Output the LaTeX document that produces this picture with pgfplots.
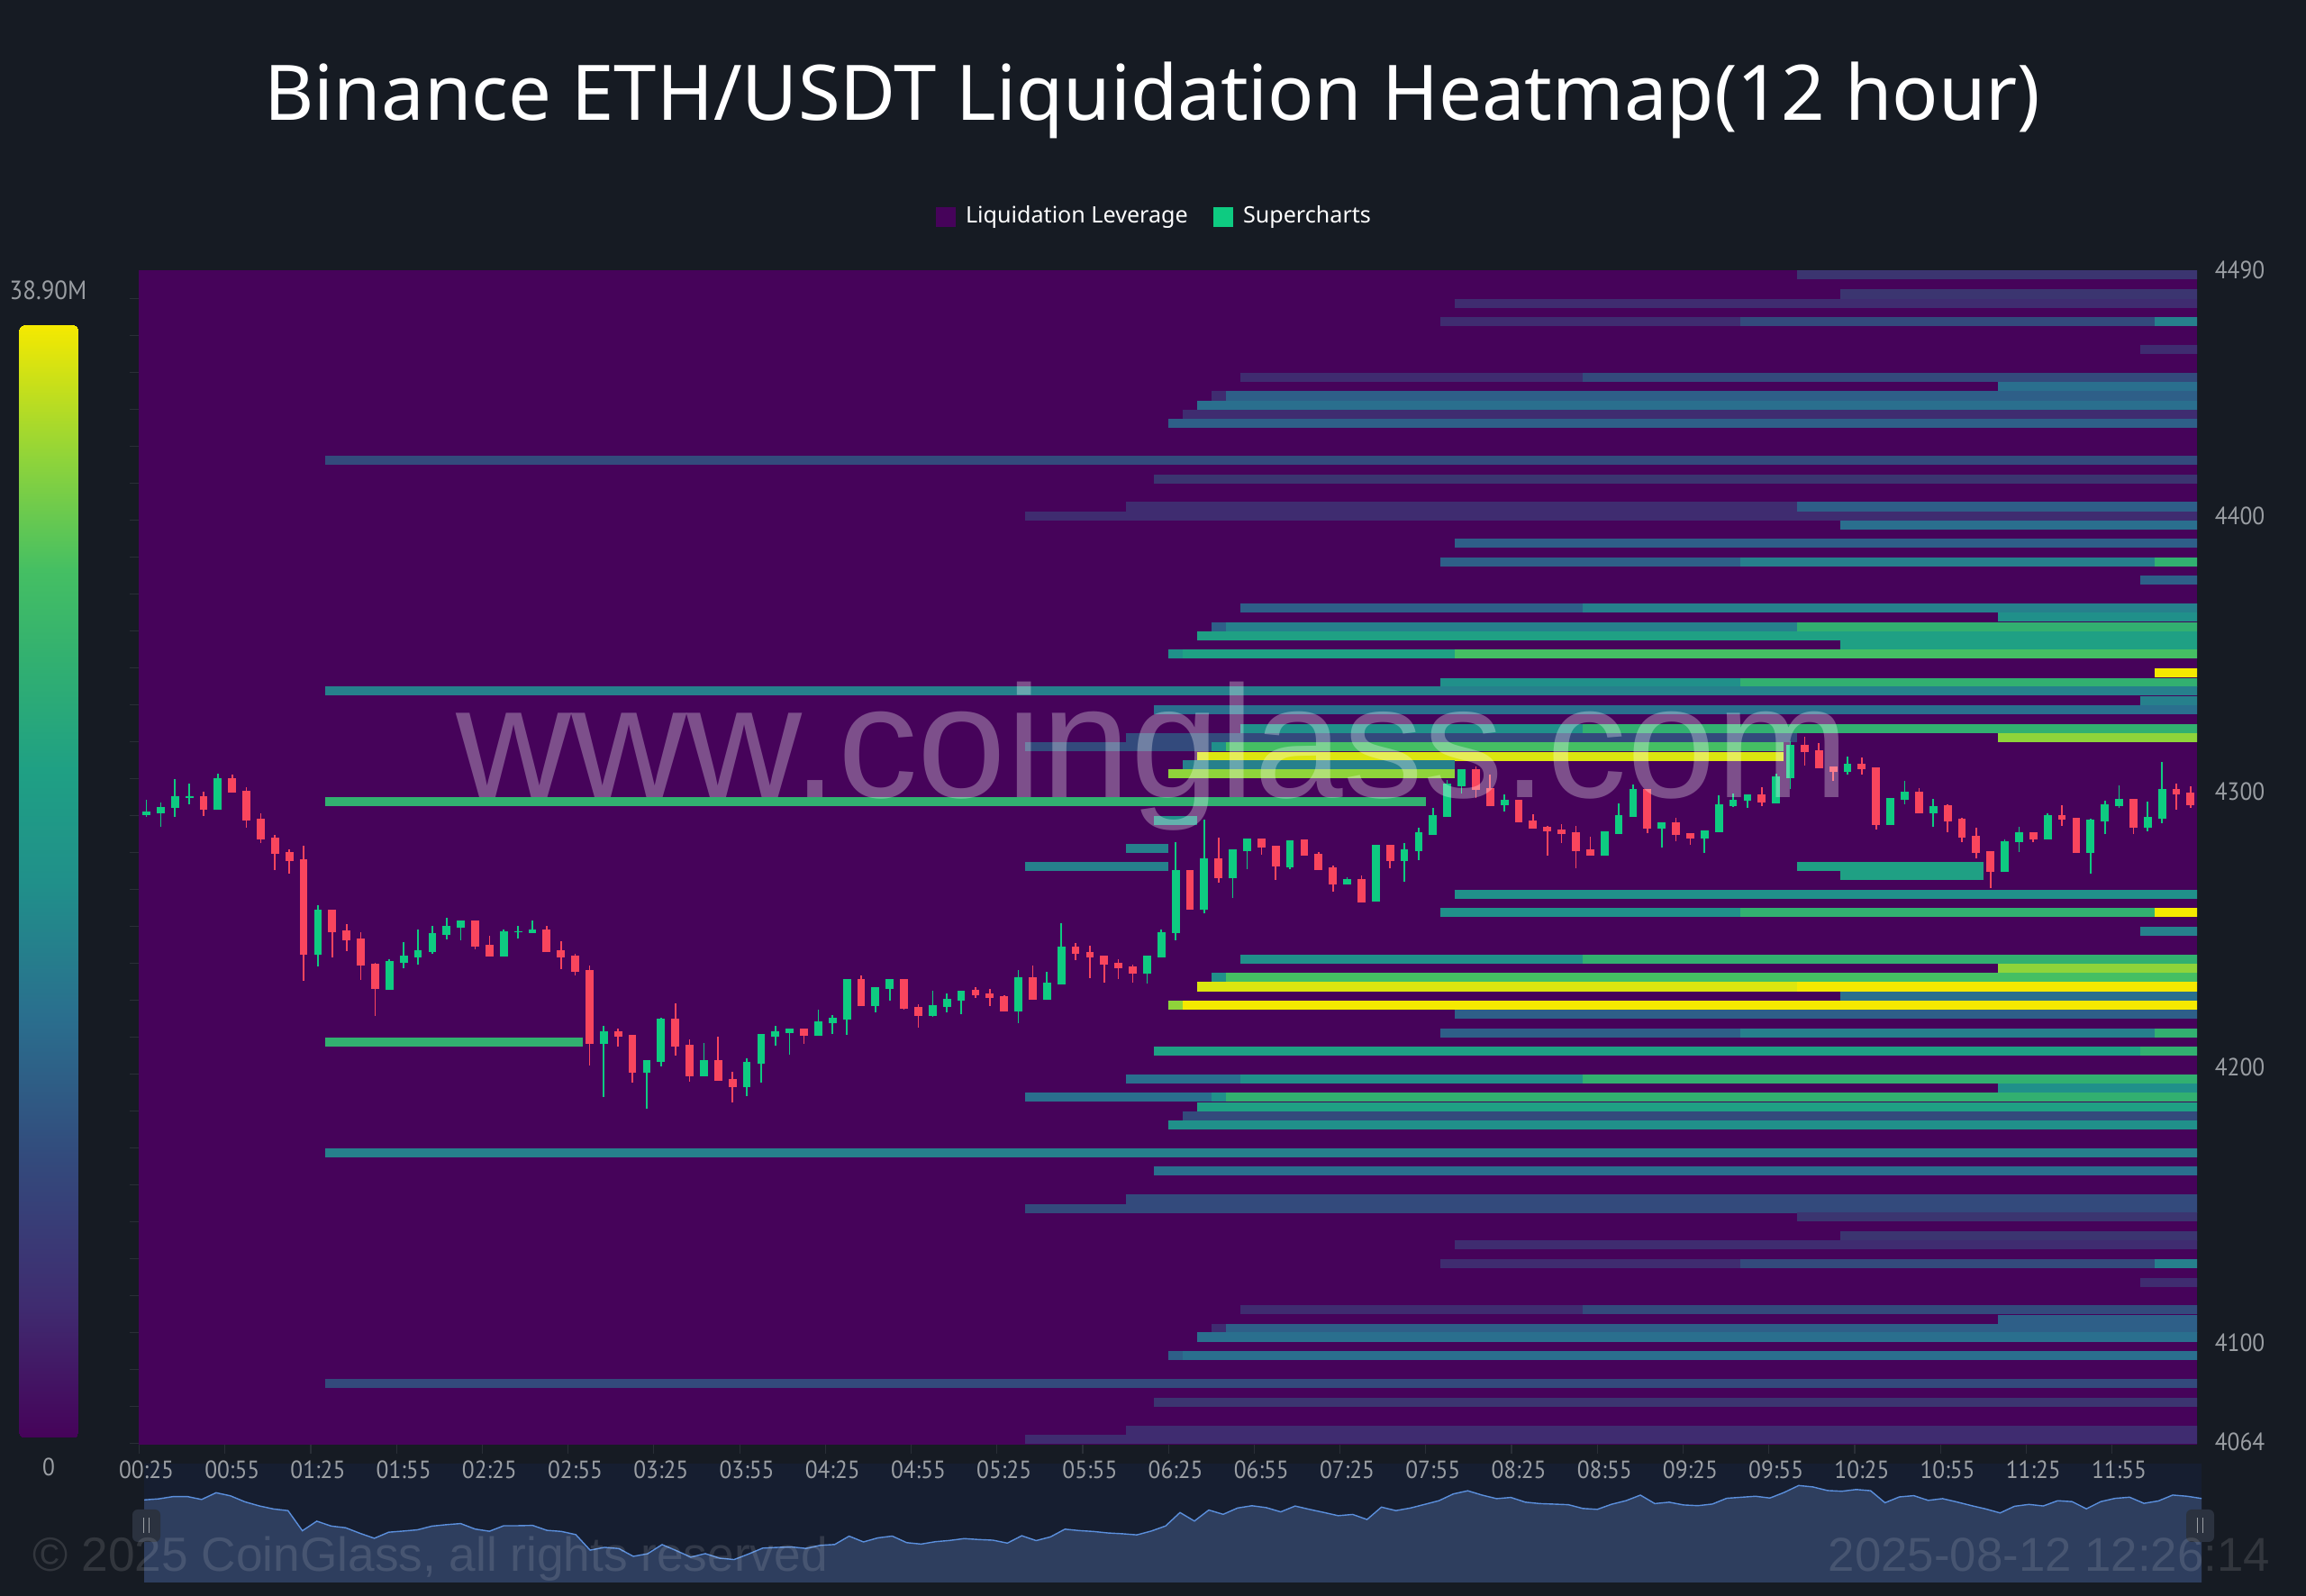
\documentclass[border=0pt]{standalone}
\usepackage{fontspec}
\usepackage{pgfplots}
\usepackage{pgfplotstable}
\pgfplotsset{compat=1.18}
\setmainfont{Noto Sans}
\newfontfamily\din[FakeStretch=0.92]{PT Sans}
\newfontfamily\arial{Liberation Sans}

\definecolor{pagebg}{HTML}{161B23}
\definecolor{heatbg}{HTML}{46035A}
\definecolor{navbg}{HTML}{161E30}
\definecolor{navarea}{HTML}{2E3E5E}
\definecolor{navline}{HTML}{5B8FDC}
\definecolor{upc}{HTML}{0ECB81}
\definecolor{downc}{HTML}{F9455D}
\definecolor{ticklab}{HTML}{9A9EA3}
\definecolor{faint}{HTML}{2A2F37}
% heat levels, low to high
\definecolor{cA}{HTML}{3F2C70}
\definecolor{cB}{HTML}{3B3570}
\definecolor{cC}{HTML}{334A7C}
\definecolor{cD}{HTML}{2E5F88}
\definecolor{cE}{HTML}{2A6F8E}
\definecolor{cF}{HTML}{26808C}
\definecolor{cG}{HTML}{20908A}
\definecolor{cH}{HTML}{1FA084}
\definecolor{cI}{HTML}{32B070}
\definecolor{cJ}{HTML}{45BF63}
\definecolor{cK}{HTML}{8FD43A}
\definecolor{cL}{HTML}{DCE60F}
\definecolor{cM}{HTML}{F5E900}

% candles: index, body top, body bottom, high, low
\pgfplotstableread{
i t b h l
4 4298.4 4293.5 4300.1 4291.2
6 4304.8 4299.6 4306.2 4299.6
7 4300.2 4289.6 4301.6 4286.9
8 4290.2 4282.7 4292.2 4281.5
9 4283.4 4277.5 4284.2 4271.6
10 4278.1 4274.8 4279.0 4270.2
11 4275.5 4241.0 4280.3 4231.3
13 4257.1 4248.9 4257.1 4239.9
14 4249.6 4246.1 4252.0 4242.3
15 4246.7 4236.8 4249.1 4231.8
16 4237.6 4228.4 4237.9 4218.7
23 4253.1 4243.9 4253.1 4242.7
24 4244.6 4240.2 4247.6 4240.2
28 4250.0 4241.7 4251.3 4241.7
29 4242.4 4239.9 4245.8 4235.6
30 4240.6 4234.6 4241.0 4233.4
31 4235.2 4208.5 4237.0 4200.8
33 4213.2 4211.1 4214.2 4207.6
34 4211.8 4198.1 4211.8 4194.3
37 4217.5 4207.6 4223.1 4204.2
38 4208.2 4196.8 4210.1 4194.6
40 4202.7 4195.0 4211.2 4195.0
41 4195.6 4192.7 4198.3 4187.4
46 4213.9 4211.4 4213.9 4208.4
50 4232.0 4222.3 4233.2 4222.3
53 4232.0 4221.1 4232.0 4220.8
54 4221.8 4218.7 4222.9 4214.5
58 4228.0 4226.3 4229.1 4225.1
59 4226.9 4225.2 4228.4 4222.3
60 4225.7 4220.3 4226.1 4220.3
62 4232.8 4224.5 4236.8 4224.5
65 4243.7 4241.3 4245.0 4239.0
66 4241.9 4239.8 4244.1 4232.2
67 4240.4 4237.3 4240.4 4230.7
68 4237.9 4236.0 4239.1 4232.0
69 4236.7 4234.1 4237.1 4230.7
73 4271.6 4257.3 4271.6 4257.3
75 4275.8 4268.6 4283.2 4267.0
78 4283.0 4279.8 4283.0 4277.0
79 4280.4 4272.7 4280.4 4267.9
81 4282.5 4276.9 4282.7 4276.9
82 4277.6 4271.7 4278.0 4271.6
83 4272.4 4266.3 4273.1 4263.7
85 4268.4 4259.9 4269.5 4259.9
87 4280.7 4274.8 4280.7 4272.3
93 4308.1 4300.8 4309.2 4297.7
94 4301.4 4294.9 4306.2 4294.8
96 4296.9 4289.0 4296.9 4289.0
97 4289.6 4286.6 4291.7 4286.6
98 4287.1 4285.7 4287.7 4276.7
99 4286.4 4284.7 4288.1 4281.3
100 4285.4 4278.4 4287.6 4272.2
101 4279.1 4276.9 4283.6 4276.9
105 4300.9 4286.6 4300.9 4284.8
107 4289.0 4284.3 4290.5 4281.9
108 4285.1 4283.1 4285.1 4280.8
113 4298.9 4295.9 4301.7 4294.9
116 4316.9 4314.5 4319.8 4309.6
117 4315.0 4308.5 4317.8 4308.5
118 4309.0 4307.3 4309.0 4304.0
120 4310.2 4308.2 4312.5 4306.2
121 4308.8 4288.0 4308.8 4286.3
124 4299.9 4292.0 4301.2 4292.0
126 4295.0 4289.3 4295.3 4285.3
127 4290.1 4283.2 4290.4 4281.7
128 4283.9 4277.6 4286.9 4275.9
129 4278.3 4270.9 4278.3 4265.1
132 4285.3 4282.6 4285.3 4281.8
134 4291.4 4289.9 4295.2 4287.5
135 4290.6 4277.8 4290.6 4277.8
139 4297.4 4287.0 4297.4 4284.6
142 4300.9 4298.9 4303.0 4293.6
143 4299.6 4295.2 4301.8 4294.2
}\downcandles
\pgfplotstableread{
i t b h l
0 4292.8 4291.4 4296.9 4290.7
1 4294.5 4292.2 4296.1 4287.3
2 4298.3 4294.0 4304.6 4291.0
3 4298.4 4297.6 4302.8 4295.5
5 4304.8 4293.4 4306.6 4293.4
12 4257.1 4241.0 4258.7 4236.6
17 4238.6 4228.1 4239.1 4228.0
18 4240.5 4237.9 4245.3 4236.0
19 4242.6 4239.8 4249.9 4237.3
20 4248.8 4241.9 4251.2 4241.3
21 4251.2 4248.1 4254.1 4246.5
22 4253.1 4250.5 4253.1 4246.0
25 4249.5 4240.2 4249.9 4240.2
26 4249.5 4249.0 4251.3 4246.7
27 4250.0 4248.8 4253.2 4248.6
32 4213.2 4208.5 4215.1 4189.3
35 4202.5 4198.1 4202.5 4184.9
36 4217.8 4201.9 4218.0 4200.3
39 4202.7 4196.7 4208.7 4196.7
42 4201.9 4192.7 4203.1 4189.6
43 4212.0 4201.2 4212.0 4194.3
44 4213.1 4211.2 4215.1 4207.9
45 4213.9 4212.4 4213.9 4204.7
47 4216.6 4211.4 4220.8 4211.4
48 4218.0 4216.0 4219.1 4212.2
49 4232.0 4217.4 4232.0 4211.6
51 4229.1 4222.3 4229.1 4220.0
52 4232.1 4228.5 4232.1 4224.3
55 4222.7 4218.6 4227.7 4218.4
56 4224.8 4222.0 4226.7 4219.8
57 4227.9 4224.3 4227.9 4219.3
61 4232.7 4220.3 4235.2 4215.9
63 4230.8 4224.5 4234.6 4224.5
64 4243.7 4230.2 4252.2 4230.2
70 4240.5 4234.1 4240.5 4230.4
71 4249.1 4240.0 4249.9 4240.0
72 4271.6 4248.6 4281.7 4245.9
74 4275.8 4257.3 4289.8 4255.8
76 4279.2 4268.6 4279.2 4261.5
77 4283.0 4278.5 4283.0 4271.9
80 4282.5 4272.6 4282.5 4272.0
84 4268.4 4266.3 4269.0 4266.3
86 4280.7 4260.0 4280.7 4260.0
88 4279.1 4274.8 4281.5 4267.3
89 4285.2 4278.4 4286.8 4275.1
90 4291.5 4284.4 4294.0 4284.4
91 4302.8 4290.8 4304.2 4290.8
92 4308.1 4302.1 4308.1 4299.2
95 4296.9 4295.0 4299.0 4292.7
102 4285.5 4276.9 4285.5 4276.9
103 4291.5 4284.7 4295.7 4284.7
104 4300.8 4290.7 4302.5 4290.7
106 4288.9 4286.6 4288.9 4279.7
109 4285.8 4283.1 4285.8 4277.6
110 4295.5 4285.2 4298.7 4285.2
111 4297.2 4294.8 4299.2 4294.4
112 4298.9 4296.6 4298.9 4294.2
114 4305.4 4295.9 4306.6 4295.9
115 4316.9 4304.8 4318.2 4301.0
119 4310.2 4307.3 4312.6 4306.3
122 4297.8 4288.0 4297.8 4288.0
123 4299.9 4296.9 4303.8 4295.3
125 4294.9 4292.0 4297.4 4287.4
130 4282.1 4270.8 4282.8 4270.8
131 4285.2 4281.6 4287.3 4278.2
133 4291.4 4282.7 4292.3 4282.7
136 4289.9 4277.8 4290.1 4270.3
137 4295.4 4289.1 4296.6 4284.6
138 4297.3 4294.7 4302.3 4294.0
140 4291.0 4287.0 4296.5 4285.6
141 4300.9 4290.2 4310.8 4288.6
}\upcandles
% closes for the navigator strip
\pgfplotstableread{
i c
0 4292.8
1 4294.5
2 4298.3
3 4298.4
4 4293.5
5 4304.8
6 4299.6
7 4289.6
8 4282.7
9 4277.5
10 4274.8
11 4241.0
12 4257.1
13 4248.9
14 4246.1
15 4236.8
16 4228.4
17 4238.6
18 4240.5
19 4242.6
20 4248.8
21 4251.2
22 4253.1
23 4243.9
24 4240.2
25 4249.5
26 4249.5
27 4250.0
28 4241.7
29 4239.9
30 4234.6
31 4208.5
32 4213.2
33 4211.1
34 4198.1
35 4202.5
36 4217.8
37 4207.6
38 4196.8
39 4202.7
40 4195.0
41 4192.7
42 4201.9
43 4212.0
44 4213.1
45 4213.9
46 4211.4
47 4216.6
48 4218.0
49 4232.0
50 4222.3
51 4229.1
52 4232.1
53 4221.1
54 4218.7
55 4222.7
56 4224.8
57 4227.9
58 4226.3
59 4225.2
60 4220.3
61 4232.7
62 4224.5
63 4230.8
64 4243.7
65 4241.3
66 4239.8
67 4237.3
68 4236.0
69 4234.1
70 4240.5
71 4249.1
72 4271.6
73 4257.3
74 4275.8
75 4268.6
76 4279.2
77 4283.0
78 4279.8
79 4272.7
80 4282.5
81 4276.9
82 4271.7
83 4266.3
84 4268.4
85 4259.9
86 4280.7
87 4274.8
88 4279.1
89 4285.2
90 4291.5
91 4302.8
92 4308.1
93 4300.8
94 4294.9
95 4296.9
96 4289.0
97 4286.6
98 4285.7
99 4284.7
100 4278.4
101 4276.9
102 4285.5
103 4291.5
104 4300.8
105 4286.6
106 4288.9
107 4284.3
108 4283.1
109 4285.8
110 4295.5
111 4297.2
112 4298.9
113 4295.9
114 4305.4
115 4316.9
116 4314.5
117 4308.5
118 4307.3
119 4310.2
120 4308.2
121 4288.0
122 4297.8
123 4299.9
124 4292.0
125 4294.9
126 4289.3
127 4283.2
128 4277.6
129 4270.9
130 4282.1
131 4285.2
132 4282.6
133 4291.4
134 4289.9
135 4277.8
136 4289.9
137 4295.4
138 4297.3
139 4287.0
140 4291.0
141 4300.9
142 4298.9
143 4295.2
}\closes

% one heat band: price, from candle, to candle, level
\newcommand{\seg}[4]{\addplot[draw=#4, line width=2.56pt, forget plot] coordinates {(#2,#1) (#3,#1)};}
% one candle set: table, colour
\newcommand{\candles}[2]{%
  \addplot[draw=none, forget plot, error bars/.cd, y dir=both, y explicit, error mark=none,
    error bar style={draw=#2, line width=0.42pt}]
    table[x=i, y expr=(\thisrow{h}+\thisrow{l})/2, y error expr=(\thisrow{h}-\thisrow{l})/2] {#1};
  \addplot[draw=none, forget plot, error bars/.cd, y dir=both, y explicit, error mark=none,
    error bar style={draw=#2, line width=2.2pt}]
    table[x=i, y expr=(\thisrow{t}+\thisrow{b})/2, y error expr=(\thisrow{t}-\thisrow{b})/2] {#1};
}

\pgfplotsset{
  levelmap/.style={colormap={lev}{
    rgb255(0cm)=(70,3,90) rgb255(12cm)=(63,44,112) rgb255(25cm)=(51,74,124)
    rgb255(38cm)=(42,111,142) rgb255(50cm)=(32,144,138) rgb255(60cm)=(31,160,132)
    rgb255(70cm)=(50,176,112) rgb255(78cm)=(69,191,99) rgb255(88cm)=(143,212,58)
    rgb255(100cm)=(245,233,0)}},
}

\begin{document}
\begin{tikzpicture}
\path[use as bounding box, fill=pagebg] (0pt,0pt) rectangle (640pt,443pt);

% navigator
\begin{axis}[at={(40pt,3.75pt)}, anchor=south west, width=571pt, height=33pt, scale only axis,
  xmin=0, xmax=143, ymin=4154.3, ymax=4353.7,
  axis background/.style={fill=navbg},
  axis line style={draw=none}, ticks=none,
]
\addplot[fill=navarea, draw=none] table[x=i, y=c] {\closes} \closedcycle;
\addplot[draw=navline, line width=0.35pt] table[x=i, y=c] {\closes};
\end{axis}

% colour scale
\begin{scope}
\clip[rounded corners=1.5pt] (5.25pt,44pt) rectangle (21.75pt,352.75pt);
\begin{axis}[at={(5.25pt,44pt)}, anchor=south west, width=16.5pt, height=308.75pt, scale only axis,
  hide axis, xmin=0, xmax=1, ymin=0, ymax=38.9, levelmap, point meta min=0, point meta max=38.9]
\addplot[patch, patch type=rectangle, shader=interp, point meta=y]
  coordinates {(0,0) (1,0) (1,38.9) (0,38.9)};
\end{axis}
\end{scope}

% heatmap and candles
\begin{axis}[at={(38.5pt,42pt)}, anchor=south west, width=571.25pt, height=326pt, scale only axis,
  xmin=-0.536, xmax=143.45, ymin=4063.07, ymax=4489.2,
  axis background/.style={fill=heatbg},
  axis line style={draw=none},
  major tick length=0pt,
  xtick={0,6,...,138},
  xticklabels={00:25,00:55,01:25,01:55,02:25,02:55,03:25,03:55,04:25,04:55,05:25,05:55,06:25,06:55,07:25,07:55,08:25,08:55,09:25,09:55,10:25,10:55,11:25,11:55},
  ytick={4064,4100,4200,4300,4400,4489.2},
  yticklabels={4064,4100,4200,4300,4400,4490},
  ytick pos=right, xtick pos=bottom,
  x tick label style={font=\din\fontsize{6.9}{8}\selectfont, text=ticklab, inner sep=0pt, yshift=-4.2pt},
  y tick label style={font=\din\fontsize{6.9}{8}\selectfont, text=ticklab, inner sep=0pt, anchor=west, xshift=4.75pt},
  legend columns=2,
  legend style={draw=none, fill=none, at={(0.4947,1.0452)}, anchor=center, inner sep=0pt,
    font=\fontsize{6.28}{8}\selectfont, text=white,
    /tikz/every even column/.append style={column sep=5pt}},
  legend cell align=left,
  legend image code/.code={\fill[#1] (0pt,-2.75pt) rectangle (5.5pt,2.75pt); \path (6.3pt,0pt);},
]
\seg{4487.5}{115.5}{143.5}{cB}
\seg{4480.5}{118.5}{143.5}{cB}
\seg{4477.1}{91.5}{143.5}{cA}
\seg{4470.5}{90.5}{111.5}{cA}
\seg{4470.5}{111.5}{140.5}{cC}
\seg{4470.5}{140.5}{143.5}{cF}
\seg{4460.5}{139.5}{143.5}{cA}
\seg{4450.3}{76.5}{100.5}{cA}
\seg{4450.3}{100.5}{143.5}{cC}
\seg{4447.0}{129.5}{143.5}{cE}
\seg{4443.6}{74.5}{75.5}{cA}
\seg{4443.6}{75.5}{143.5}{cD}
\seg{4440.2}{73.5}{143.5}{cE}
\seg{4436.9}{72.5}{143.5}{cA}
\seg{4433.7}{71.5}{143.5}{cD}
\seg{4420.3}{12.5}{143.5}{cC}
\seg{4413.5}{70.5}{143.5}{cB}
\seg{4403.4}{68.5}{115.5}{cA}
\seg{4403.4}{115.5}{143.5}{cD}
\seg{4400.1}{61.5}{143.5}{cA}
\seg{4396.8}{118.5}{143.5}{cE}
\seg{4390.1}{91.5}{143.5}{cD}
\seg{4383.3}{90.5}{111.5}{cD}
\seg{4383.3}{111.5}{140.5}{cF}
\seg{4383.3}{140.5}{143.5}{cI}
\seg{4376.7}{139.5}{143.5}{cD}
\seg{4366.7}{76.5}{100.5}{cD}
\seg{4366.7}{100.5}{143.5}{cF}
\seg{4363.3}{129.5}{143.5}{cG}
\seg{4359.8}{74.5}{75.5}{cD}
\seg{4359.8}{75.5}{115.5}{cF}
\seg{4359.8}{115.5}{143.5}{cI}
\seg{4356.5}{73.5}{143.5}{cH}
\seg{4353.3}{118.5}{143.5}{cH}
\seg{4350.0}{71.5}{72.5}{cG}
\seg{4350.0}{72.5}{91.5}{cH}
\seg{4350.0}{91.5}{143.5}{cJ}
\seg{4343.1}{140.5}{143.5}{cM}
\seg{4339.6}{90.5}{111.5}{cG}
\seg{4339.6}{111.5}{143.5}{cI}
\seg{4336.5}{12.5}{143.5}{cF}
\seg{4333.0}{139.5}{143.5}{cF}
\seg{4329.7}{70.5}{143.5}{cE}
\seg{4322.9}{76.5}{100.5}{cG}
\seg{4322.9}{100.5}{143.5}{cI}
\seg{4319.6}{68.5}{115.5}{cC}
\seg{4319.6}{129.5}{143.5}{cK}
\seg{4316.2}{61.5}{74.5}{cC}
\seg{4316.2}{74.5}{75.5}{cG}
\seg{4316.2}{75.5}{114.5}{cJ}
\seg{4312.8}{73.5}{114.5}{cL}
\seg{4309.6}{72.5}{91.5}{cF}
\seg{4306.4}{71.5}{91.5}{cK}
\seg{4296.3}{12.5}{89.5}{cI}
\seg{4289.5}{70.5}{73.5}{cG}
\seg{4279.5}{68.5}{71.5}{cF}
\seg{4272.9}{61.5}{71.5}{cF}
\seg{4272.9}{115.5}{128.5}{cH}
\seg{4269.7}{118.5}{128.5}{cH}
\seg{4262.8}{91.5}{143.5}{cG}
\seg{4256.1}{90.5}{111.5}{cG}
\seg{4256.1}{111.5}{140.5}{cI}
\seg{4256.1}{140.5}{143.5}{cM}
\seg{4249.4}{139.5}{143.5}{cF}
\seg{4239.3}{76.5}{100.5}{cG}
\seg{4239.3}{100.5}{143.5}{cI}
\seg{4235.9}{129.5}{143.5}{cK}
\seg{4232.5}{74.5}{75.5}{cG}
\seg{4232.5}{75.5}{143.5}{cJ}
\seg{4229.2}{73.5}{115.5}{cL}
\seg{4229.2}{115.5}{143.5}{cM}
\seg{4225.8}{118.5}{143.5}{cE}
\seg{4222.5}{71.5}{72.5}{cK}
\seg{4222.5}{72.5}{143.5}{cM}
\seg{4219.3}{91.5}{143.5}{cD}
\seg{4212.5}{90.5}{111.5}{cD}
\seg{4212.5}{111.5}{140.5}{cF}
\seg{4212.5}{140.5}{143.5}{cI}
\seg{4209.2}{12.5}{30.5}{cI}
\seg{4205.9}{70.5}{139.5}{cH}
\seg{4205.9}{139.5}{143.5}{cI}
\seg{4195.8}{68.5}{76.5}{cE}
\seg{4195.8}{76.5}{100.5}{cG}
\seg{4195.8}{100.5}{143.5}{cI}
\seg{4192.5}{129.5}{143.5}{cG}
\seg{4189.1}{61.5}{74.5}{cE}
\seg{4189.1}{74.5}{75.5}{cG}
\seg{4189.1}{75.5}{143.5}{cI}
\seg{4185.7}{73.5}{143.5}{cH}
\seg{4182.3}{72.5}{143.5}{cC}
\seg{4179.1}{71.5}{143.5}{cG}
\seg{4169.0}{12.5}{143.5}{cF}
\seg{4162.3}{70.5}{143.5}{cE}
\seg{4152.1}{68.5}{143.5}{cC}
\seg{4148.8}{61.5}{143.5}{cC}
\seg{4145.7}{115.5}{143.5}{cB}
\seg{4138.7}{118.5}{143.5}{cB}
\seg{4135.5}{91.5}{143.5}{cA}
\seg{4128.8}{90.5}{111.5}{cA}
\seg{4128.8}{111.5}{140.5}{cC}
\seg{4128.8}{140.5}{143.5}{cF}
\seg{4122.0}{139.5}{143.5}{cA}
\seg{4112.0}{76.5}{100.5}{cA}
\seg{4112.0}{100.5}{143.5}{cC}
\seg{4108.6}{129.5}{143.5}{cD}
\seg{4105.2}{74.5}{75.5}{cA}
\seg{4105.2}{75.5}{143.5}{cD}
\seg{4102.1}{73.5}{143.5}{cE}
\seg{4095.3}{71.5}{72.5}{cD}
\seg{4095.3}{72.5}{143.5}{cE}
\seg{4085.2}{12.5}{143.5}{cC}
\seg{4078.5}{70.5}{143.5}{cB}
\seg{4068.3}{68.5}{143.5}{cA}
\seg{4064.9}{61.5}{143.5}{cA}
\candles{\downcandles}{downc}
\candles{\upcandles}{upc}
\addlegendimage{fill=heatbg, draw=none}
\addlegendentry{Liquidation Leverage}
\addlegendimage{fill=upc, draw=none}
\addlegendentry{Supercharts}
\end{axis}

% faint tick marks left of and under the heatmap
\begin{axis}[at={(38.5pt,42pt)}, anchor=south west, width=571.25pt, height=326pt, scale only axis,
  xmin=-0.536, xmax=143.45, ymin=4063.07, ymax=4489.2,
  axis line style={draw=none},
  xtick={-0.5,5.5,...,143.5}, ytick={4063.5,4076.9,...,4478.9},
  xticklabels={}, yticklabels={},
  xtick pos=bottom, ytick pos=left, tick align=outside,
  major tick length=2.5pt, tick style={draw=faint, line width=0.3pt},
]
\end{axis}

\begin{scope}[x=0.25pt,y=0.25pt]
\node[anchor=base, inner sep=0pt, font=\din\fontsize{7.3}{8}\selectfont, text=ticklab] at (53.5,1439) {38.90M};
\node[anchor=base, inner sep=0pt, font=\din\fontsize{6.9}{8}\selectfont, text=ticklab] at (54,133) {0};
\fill[rounded corners=1.5pt, fill=faint!80!navarea] (147,60) rectangle (178,96);
\fill[rounded corners=1.5pt, fill=faint!80!navarea] (2427,60) rectangle (2458,96);
\draw[ticklab, line width=0.35pt] (159.5,70) -- (159.5,87) (165.5,70) -- (165.5,87)
  (2439.5,70) -- (2439.5,87) (2445.5,70) -- (2445.5,87);

% watermarks
\node[anchor=base west, inner sep=0pt, font=\arial\fontsize{44.3}{50}\selectfont, text=white, text opacity=0.3] at (506,886) {www.coinglass.com};
\node[anchor=base west, inner sep=0pt, font=\arial\fontsize{13.3}{16}\selectfont, text=white, text opacity=0.12] at (36,27) {© 2025 CoinGlass, all rights reserved};
\node[anchor=base west, inner sep=0pt, font=\arial\fontsize{13.2}{16}\selectfont, text=white, text opacity=0.12] at (2029,27) {2025-08-12 12:26:14};

% title
\node[anchor=base, inner sep=0pt, font=\fontsize{21.27}{26}\selectfont, text=white] at (1279.5,1638) {Binance ETH/USDT Liquidation Heatmap(12 hour)};
\end{scope}
\end{tikzpicture}
\end{document}
